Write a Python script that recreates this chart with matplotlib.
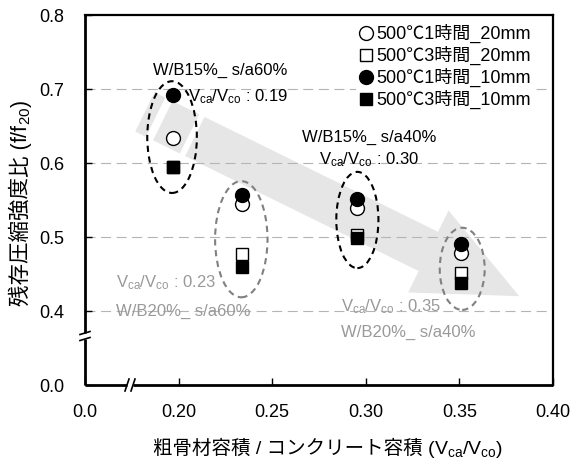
import matplotlib
matplotlib.use('Agg')
import matplotlib.pyplot as plt
import numpy as np
from matplotlib.patches import Ellipse, Polygon
from matplotlib.lines import Line2D

plt.rcParams['font.family'] = ['Liberation Sans', 'Noto Sans CJK JP']
plt.rcParams['mathtext.fontset'] = 'custom'
plt.rcParams['mathtext.rm'] = 'Liberation Sans'
plt.rcParams['mathtext.it'] = 'Liberation Sans:italic'
plt.rcParams['mathtext.bf'] = 'Liberation Sans:bold'

# ---------------- data ----------------
vca = [0.197, 0.234, 0.2955, 0.351]
c1h_20 = [0.634, 0.545, 0.539, 0.479]   # open circle
c3h_20 = [0.595, 0.477, 0.503, 0.451]   # open square
c1h_10 = [0.692, 0.557, 0.551, 0.490]   # filled circle
c3h_10 = [0.595, 0.460, 0.499, 0.438]   # filled square
labels = ['500℃1時間_20mm', '500℃3時間_20mm', '500℃1時間_10mm', '500℃3時間_10mm']

xticks = [0.15, 0.20, 0.25, 0.30, 0.35, 0.40]
xticklabels = ['0.0', '0.20', '0.25', '0.30', '0.35', '0.40']
yticks = [0.3, 0.4, 0.5, 0.6, 0.7, 0.8]
yticklabels = ['0.0', '0.4', '0.5', '0.6', '0.7', '0.8']
gridvals = [0.4, 0.5, 0.6, 0.7]

xlabel_cjk = '粗骨材容積 / コンクリート容積 ('
xlabel_math = r'V$_{\mathregular{ca}}$/V$_{\mathregular{co}}$)'
ylabel_cjk = '残存圧縮強度比 ('
ylabel_math = r'f/f$_{\mathregular{20}}$)'

# group ellipses: (center x, center y, width, height, color)
ell_cx = [0.1965, 0.2335, 0.2955, 0.3515]
ell_cy = [0.635, 0.497, 0.523, 0.457]
ell_w = [0.0265, 0.028, 0.0225, 0.024]
ell_h = [0.151, 0.157, 0.130, 0.111]
ell_col = ['black', '#808080', 'black', '#808080']

# annotations
ann_text = ['W/B15%_ s/a60%', r'V$_{\mathregular{ca}}$/V$_{\mathregular{co}}$ : 0.19',
            'W/B15%_ s/a40%', r'V$_{\mathregular{ca}}$/V$_{\mathregular{co}}$ : 0.30',
            r'V$_{\mathregular{ca}}$/V$_{\mathregular{co}}$ : 0.23', 'W/B20%_ s/a60%',
            r'V$_{\mathregular{ca}}$/V$_{\mathregular{co}}$ : 0.35', 'W/B20%_ s/a40%']
ann_x = [0.1862, 0.2048, 0.2657, 0.2752, 0.1666, 0.1666, 0.2869, 0.2869]
ann_y = [0.7245, 0.690, 0.634, 0.6045, 0.4387, 0.400, 0.4063, 0.371]
ann_col = ['black', 'black', 'black', 'black', '#999999', '#999999', '#999999', '#999999']

# trend arrow (data coords: tail -> tip)
arrow_tail = (0.182, 0.669)
arrow_tip = (0.382, 0.420)

# ---------------- figure ----------------
W, H = 577, 461
fig = plt.figure(figsize=(W / 100, H / 100), dpi=100)
L, R, T, B = 85, 553, 15, 385
ax = fig.add_axes([L / W, 1 - B / H, (R - L) / W, (B - T) / H])
ax.set_xlim(0.15, 0.40)
ax.set_ylim(0.3, 0.8)

# grid
for g in gridvals:
    ax.axhline(g, color='#b4b4b4', lw=0.8, ls=(0, (9, 5)), zorder=1)

# arrow polygon built in display space
fig.canvas.draw()
p0 = ax.transData.transform(arrow_tail)
p1 = ax.transData.transform(arrow_tip)
d = p1 - p0
Ltot = np.hypot(*d)
u = d / Ltot
n = np.array([-u[1], u[0]])
scale = Ltot / 420.0
bw = 22 * scale
hw = 46 * scale


def rect(a, b):
    return [p0 + u * a * scale + n * bw, p0 + u * b * scale + n * bw,
            p0 + u * b * scale - n * bw, p0 + u * a * scale - n * bw]


inv = ax.transData.inverted()
pieces = [rect(0, 12), rect(20, 50),
          [p0 + u * 56 * scale + n * bw, p0 + u * 318 * scale + n * bw,
           p0 + u * 318 * scale + n * hw, p1,
           p0 + u * 318 * scale - n * hw, p0 + u * 318 * scale - n * bw,
           p0 + u * 56 * scale - n * bw]]
for pc in pieces:
    pts = inv.transform(np.array(pc))
    ax.add_patch(Polygon(pts, closed=True, facecolor='#e6e6e6', edgecolor='none', zorder=0.5))

# ellipses
for cx, cy, w, h, c in zip(ell_cx, ell_cy, ell_w, ell_h, ell_col):
    ax.add_patch(Ellipse((cx, cy), w, h, fill=False, edgecolor=c, lw=1.5,
                         ls=(0, (3, 2.2)), zorder=2))

# data markers
ms_c, ms_s = 10, 8.5
ax.plot(vca, c1h_20, ls='none', marker='o', ms=ms_c, mfc='white', mec='black', mew=1.0, zorder=3)
ax.plot(vca, c3h_20, ls='none', marker='s', ms=ms_s, mfc='white', mec='black', mew=1.0, zorder=3)
ax.plot(vca, c1h_10, ls='none', marker='o', ms=ms_c, mfc='black', mec='black', mew=1.0, zorder=4)
ax.plot(vca, c3h_10, ls='none', marker='s', ms=ms_s, mfc='black', mec='black', mew=1.0, zorder=4)

# annotations
for t, x, y, c in zip(ann_text, ann_x, ann_y, ann_col):
    ax.text(x, y, t, color=c, fontsize=12, ha='left', va='center', zorder=5)

# legend
handles = [Line2D([], [], ls='none', marker='o', ms=ms_c, mfc='white', mec='black'),
           Line2D([], [], ls='none', marker='s', ms=ms_s, mfc='white', mec='black'),
           Line2D([], [], ls='none', marker='o', ms=ms_c, mfc='black', mec='black'),
           Line2D([], [], ls='none', marker='s', ms=ms_s, mfc='black', mec='black')]
leg = ax.legend(handles, labels, loc='upper right', bbox_to_anchor=(0.96, 0.985),
                fontsize=13, frameon=True, framealpha=1, facecolor='white', edgecolor='none',
                handlelength=0.7, handletextpad=0.2, labelspacing=0.15, borderpad=0.2,
                borderaxespad=0)
leg.set_zorder(6)

# ticks
ax.set_xticks(xticks)
ax.set_xticklabels(xticklabels)
ax.set_yticks(yticks)
ax.set_yticklabels(yticklabels)
ax.tick_params(axis='both', direction='in', length=5, width=1, labelsize=13)
ax.tick_params(axis='x', pad=14)
ax.tick_params(axis='y', pad=15)

# spines
for s in ['top', 'right']:
    ax.spines[s].set_linewidth(1.6)
ax.spines['left'].set_visible(False)
ax.spines['bottom'].set_visible(False)

# manual broken spines (axes coords)
ybrk_hi = (B - 333) / (B - T)
ybrk_lo = (B - 339) / (B - T)
xbrk_lo = (127 - L) / (R - L)
xbrk_hi = (133 - L) / (R - L)
kw = dict(transform=ax.transAxes, color='black', lw=2, clip_on=False, solid_capstyle='butt', zorder=7)
ax.plot([0, 0], [ybrk_hi, 1], **kw)
ax.plot([0, 0], [0, ybrk_lo], **kw)
ax.plot([0, xbrk_lo], [0, 0], **kw)
ax.plot([xbrk_hi, 1], [0, 0], **kw)
px = 1.0 / (R - L)
py = 1.0 / (B - T)
kw2 = dict(transform=ax.transAxes, color='black', lw=1.2, clip_on=False, zorder=7)
for yy in [ybrk_hi, ybrk_lo]:
    ax.plot([-5 * px, 5 * px], [yy - 1.5 * py, yy + 1.5 * py], **kw2)
for xx in [xbrk_lo, xbrk_hi]:
    ax.plot([xx - 2 * px, xx + 2 * px], [-6 * py, 6 * py], **kw2)

# axis labels (CJK part as plain text, subscript part as mathtext)
r = fig.canvas.get_renderer()
tx1 = fig.text(0, 0, xlabel_cjk, fontsize=14, ha='left', va='baseline')
tx2 = fig.text(0, 0, xlabel_math, fontsize=14, ha='left', va='baseline')
w1 = tx1.get_window_extent(r).width
w2 = tx2.get_window_extent(r).width
x_start = 328 - (w1 + w2) / 2
base_y = H - 454
tx1.set_position((x_start / W, base_y / H))
tx2.set_position(((x_start + w1) / W, base_y / H))

ty1 = fig.text(0, 0, ylabel_cjk, fontsize=15.5, ha='left', va='baseline',
               rotation=90, rotation_mode='anchor')
ty2 = fig.text(0, 0, ylabel_math, fontsize=15.5, ha='left', va='baseline',
               rotation=90, rotation_mode='anchor')
h1 = ty1.get_window_extent(r).height
h2 = ty2.get_window_extent(r).height
y_start = (H - 203) - (h1 + h2) / 2
base_x = 27
ty1.set_position((base_x / W, y_start / H))
ty2.set_position((base_x / W, (y_start + h1) / H))

fig.savefig('out.png', dpi=100)
